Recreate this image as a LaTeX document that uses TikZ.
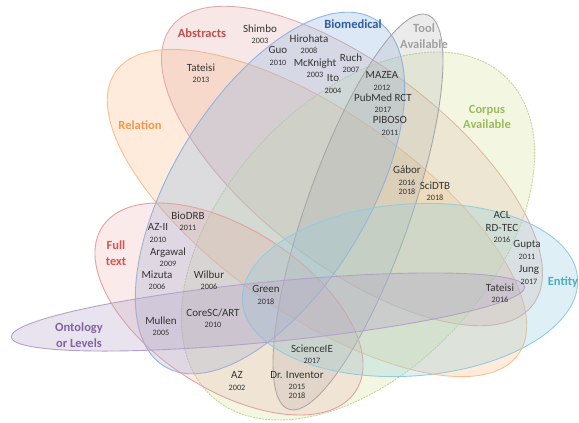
\documentclass[tikz,border=0pt]{standalone}
\usepackage{fontspec}
\setmainfont{Carlito}
\usepackage{xcolor}
\usepackage{tikz}
\definecolor{vnInk}{HTML}{333333}
\definecolor{vnAbs}{HTML}{D99694}
\definecolor{vnAbsText}{HTML}{C0504D}
\definecolor{vnRel}{HTML}{F9A65A}
\definecolor{vnRelLine}{HTML}{FAC090}
\definecolor{vnRelText}{HTML}{F79646}
\definecolor{vnBio}{HTML}{8EB4E3}
\definecolor{vnBioText}{HTML}{2E5D9F}
\definecolor{vnTool}{HTML}{A6A6A6}
\definecolor{vnToolText}{HTML}{A0A0A0}
\definecolor{vnCorp}{HTML}{D7E4A0}
\definecolor{vnCorpLine}{HTML}{C3D69B}
\definecolor{vnCorpText}{HTML}{9BBB59}
\definecolor{vnFull}{HTML}{E6A0A0}
\definecolor{vnFullText}{HTML}{D9534F}
\definecolor{vnOnt}{HTML}{B3A2C7}
\definecolor{vnOntText}{HTML}{8064A2}
\definecolor{vnEnt}{HTML}{93CDDD}
\definecolor{vnEntText}{HTML}{4BACC6}
\tikzset{
  setfill/.style={fill opacity=0.22},
  setline/.style={line width=0.9pt},
  study/.style={font=\fontsize{11}{11.5}\selectfont,text=vnInk,
    align=center,inner sep=0pt},
  setlbl/.style={font=\fontsize{12.5}{15.5}\selectfont\bfseries,
    align=center,inner sep=0pt},
}
\newcommand{\yr}[1]{{\fontsize{8.2}{9}\selectfont #1}}

\begin{document}
\begin{tikzpicture}[x=1pt,y=-1pt]
  \useasboundingbox (0,0) rectangle (579,423);

  % Relation
  \fill[vnRel,setfill,rotate around={-35:(317,213)}] (317,213)
    ellipse [x radius=246,y radius=101];
  \draw[vnRelLine,setline,rotate around={-35:(317,213)}] (317,213)
    ellipse [x radius=246,y radius=101];

  % Abstracts
  \fill[vnAbs,setfill,rotate around={-37.6:(352,166)}] (352,166)
    ellipse [x radius=228,y radius=99];
  \draw[vnAbs!80,setline,rotate around={-37.6:(352,166)}] (352,166)
    ellipse [x radius=228,y radius=99];

  % Corpus available
  \fill[vnCorp,fill opacity=0.3,rotate around={47.6:(358,236)}] (358,236)
    ellipse [x radius=217,y radius=134];
  \draw[vnCorpLine,setline,dash pattern=on 2pt off 1pt,
    rotate around={47.6:(358,236)}] (358,236)
    ellipse [x radius=217,y radius=134];

  % Biomedical
  \fill[vnBio,fill opacity=0.3,rotate around={58.7:(270,193)}] (270,193)
    ellipse [x radius=203,y radius=98];
  \draw[vnBio,setline,rotate around={58.7:(270,193)}] (270,193)
    ellipse [x radius=203,y radius=98];

  % Tool available
  \fill[vnTool,setfill,rotate around={70.6:(358,212)}] (358,212)
    ellipse [x radius=209,y radius=52];
  \draw[vnTool,setline,rotate around={70.6:(358,212)}] (358,212)
    ellipse [x radius=209,y radius=52];

  % Full text
  \fill[vnFull,setfill,rotate around={-32.9:(229,309)}] (229,309)
    ellipse [x radius=151,y radius=80];
  \draw[vnFull,setline,rotate around={-32.9:(229,309)}] (229,309)
    ellipse [x radius=151,y radius=80];

  % Entity
  \fill[vnEnt,fill opacity=0.3,rotate around={4:(410,290)}] (410,290)
    ellipse [x radius=168,y radius=86];
  \draw[vnEnt,setline,rotate around={4:(410,290)}] (410,290)
    ellipse [x radius=168,y radius=86];

  % Ontology or levels
  \fill[vnOnt,fill opacity=0.3,rotate around={5.6:(268,312)}] (268,312)
    ellipse [x radius=258,y radius=30];
  \draw[vnOnt,setline,rotate around={5.6:(268,312)}] (268,312)
    ellipse [x radius=258,y radius=30];

  % set labels
  \node[setlbl,text=vnAbsText] (lAbs) at (202,33) {Abstracts};
  \node[setlbl,text=vnBioText] (lBio) at (353,24) {Biomedical};
  \node[setlbl,text=vnToolText] (lTool) at (424,36) {Tool\\Available};
  \node[setlbl,text=vnCorpText] (lCorp) at (487,117) {Corpus\\Available};
  \node[setlbl,text=vnRelText] (lRel) at (140,125) {Relation};
  \node[setlbl,text=vnFullText] (lFull) at (116,253) {Full\\text};
  \node[setlbl,text=vnOntText] (lOnt) at (79,335) {Ontology\\or Levels};
  \node[setlbl,text=vnEntText] (lEnt) at (563,282) {Entity};

  % studies
  \node[study] (shimbo) at (260,34) {Shimbo\\\yr{2003}};
  \node[study] (guo) at (278,56) {Guo\\\yr{2010}};
  \node[study] (tateisiA) at (201,73) {Tateisi\\\yr{2013}};
  \node[study] (hirohata) at (309,44) {Hirohata\\\yr{2008}};
  \node[study] (mcknight) at (315,68) {McKnight\\\yr{2003}};
  \node[study] (ruch) at (351,63) {Ruch\\\yr{2007}};
  \node[study] (ito) at (333,84) {Ito\\\yr{2004}};
  \node[study] (mazea) at (382,81) {MAZEA\\\yr{2012}};
  \node[study] (pubmed) at (383,103) {PubMed RCT\\\yr{2017}};
  \node[study] (piboso) at (390,126) {PIBOSO\\\yr{2011}};
  \node[study] (gabor) at (407,180) {Gábor\\\yr{2016}\\[-2.5pt]\yr{2018}};
  \node[study] (scidtb) at (435,191) {SciDTB\\\yr{2018}};
  \node[study] (rdtec) at (502,227) {ACL\\[1pt]RD-TEC\\\yr{2016}};
  \node[study] (gupta) at (527,250) {Gupta\\\yr{2011}};
  \node[study] (jung) at (529,275) {Jung\\\yr{2017}};
  \node[study] (tateisiB) at (500,293) {Tateisi\\\yr{2016}};
  \node[study] (biodrb) at (188,221) {BioDRB\\\yr{2011}};
  \node[study] (azii) at (158,233) {AZ-II\\\yr{2010}};
  \node[study] (argawal) at (168,257) {Argawal\\\yr{2009}};
  \node[study] (mizuta) at (157,280) {Mizuta\\\yr{2006}};
  \node[study] (wilbur) at (209,280) {Wilbur\\\yr{2006}};
  \node[study] (green) at (266,295) {Green\\\yr{2018}};
  \node[study] (coresc) at (213,318) {CoreSC/ART\\\yr{2010}};
  \node[study] (mullen) at (161,326) {Mullen\\\yr{2005}};
  \node[study] (az) at (237,381) {AZ\\\yr{2002}};
  \node[study] (sciencee) at (312,354) {ScienceIE\\\yr{2017}};
  \node[study] (drinv) at (297,385) {Dr. Inventor\\\yr{2015}\\[-2.5pt]\yr{2018}};
\end{tikzpicture}
\end{document}
